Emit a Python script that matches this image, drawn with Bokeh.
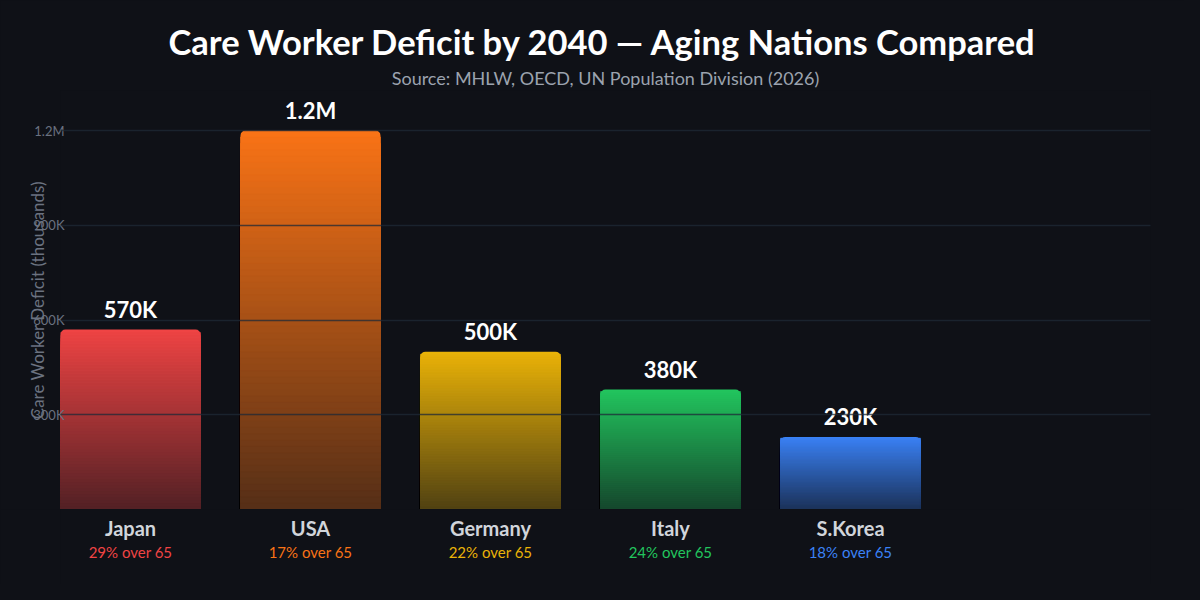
from bokeh.plotting import figure
from bokeh.layouts import column
from bokeh.models import ColumnDataSource, FixedTicker, Title, Range1d
from bokeh.core.properties import value
from bokeh.embed import file_html
from bokeh.resources import INLINE

# ---- data ----
countries = ["Japan", "USA", "Germany", "Italy", "S.Korea"]
deficit_k = [570, 1200, 500, 380, 230]
value_labels = ["570K", "1.2M", "500K", "380K", "230K"]
aging_labels = ["29% over 65", "17% over 65", "22% over 65", "24% over 65", "18% over 65"]
bar_colors = ["#ef4444", "#f97316", "#eab308", "#22c55e", "#3b82f6"]
y_ticks = [300, 600, 900, 1200]
y_tick_labels = ["300K", "600K", "900K", "1.2M"]

TITLE = "Care Worker Deficit by 2040 \u2014 Aging Nations Compared"
SUBTITLE = "Source: MHLW, OECD, UN Population Division (2026)"
Y_LABEL = "Care Worker Deficit (thousands)"

# ---- style ----
BG = "#0f1117"
FONT = "Lato"
BAR_W = 0.7778
N_STRIPS = 60
BOTTOM_ALPHA = 0.3
Y_MAX = 1327


def hex_to_rgb(h):
    h = h.lstrip("#")
    return tuple(int(h[i:i + 2], 16) for i in (0, 2, 4))


def mix(color, a):
    c = hex_to_rgb(color)
    b = hex_to_rgb(BG)
    r = [round(b[j] * (1 - a) + c[j] * a) for j in range(3)]
    return "#%02x%02x%02x" % tuple(r)


xs = list(range(len(countries)))
x_range = Range1d(-0.3889, 5.6667)

p = figure(width=1184, height=509, output_backend="svg", toolbar_location=None,
           title=None, x_range=x_range, y_range=Range1d(0, Y_MAX),
           min_border_left=60, min_border_right=34, min_border_top=90, min_border_bottom=0,
           background_fill_color=BG, border_fill_color=BG)
p.outline_line_color = None

# full bars (top colour, rounded top corners)
full_src = ColumnDataSource(dict(x=xs, top=deficit_k, color=bar_colors))
p.vbar(x="x", top="top", bottom=0, width=BAR_W, fill_color="color", line_color=None,
       border_radius=(5, 5, 0, 0), source=full_src)

# gradient strips
sx, stop, scol = [], [], []
for k in range(N_STRIPS - 1, 0, -1):
    frac = (k - 0.5) / N_STRIPS
    a = BOTTOM_ALPHA + (1 - BOTTOM_ALPHA) * frac
    for i, v in enumerate(deficit_k):
        sx.append(xs[i])
        stop.append(v * k / N_STRIPS)
        scol.append(mix(bar_colors[i], a))
strip_src = ColumnDataSource(dict(x=sx, top=stop, color=scol))
p.vbar(x="x", top="top", bottom=0, width=BAR_W, fill_color="color", line_color="color",
       line_width=0.5, source=strip_src)

# value labels above bars
val_src = ColumnDataSource(dict(x=xs, y=deficit_k, text=value_labels))
p.text(x="x", y="y", text="text", source=val_src, text_align="center",
       text_baseline="alphabetic", y_offset=-20, text_color="#ffffff",
       text_font=value(FONT), text_font_style="bold", text_font_size="22px")

# grid
p.xgrid.visible = False
p.ygrid.ticker = FixedTicker(ticks=y_ticks)
p.ygrid.grid_line_color = "#1f2937"
p.ygrid.grid_line_alpha = 0.75
p.ygrid.grid_line_width = 1.5
p.ygrid.level = "annotation"

p.xaxis.visible = False

# y axis
p.yaxis.ticker = FixedTicker(ticks=y_ticks)
p.yaxis.major_label_overrides = dict(zip(y_ticks, y_tick_labels))
p.yaxis.axis_line_color = None
p.yaxis.major_tick_line_color = None
p.yaxis.minor_tick_line_color = None
p.yaxis.major_tick_out = 0
p.yaxis.major_tick_in = 0
p.yaxis.major_label_standoff = -4
p.yaxis.major_label_text_color = "#6b7280"
p.yaxis.major_label_text_font = FONT
p.yaxis.major_label_text_font_size = "13px"
p.yaxis.axis_label = Y_LABEL
p.yaxis.axis_label_standoff = -18
p.yaxis.axis_label_text_color = "#6b7280"
p.yaxis.axis_label_text_font = FONT
p.yaxis.axis_label_text_font_style = "normal"
p.yaxis.axis_label_text_font_size = "17px"

# titles
p.add_layout(Title(text=SUBTITLE, align="center", text_font=FONT, text_font_size="18px",
                   text_font_style="normal", text_color="#9ca3af", standoff=4), "above")
p.add_layout(Title(text=TITLE, align="left", text_font=FONT, text_font_size="34.5px",
                   text_font_style="bold", text_color="#ffffff", standoff=2, offset=108), "above")

# ---- category labels strip below the bars ----
q = figure(width=1184, height=75, output_backend="svg", toolbar_location=None,
           title=None, x_range=x_range, y_range=Range1d(-1, 0),
           min_border_left=60, min_border_right=34, min_border_top=0, min_border_bottom=0,
           background_fill_color=BG, border_fill_color=BG)
q.outline_line_color = None
q.axis.visible = False
q.grid.visible = False

cat_src = ColumnDataSource(dict(x=xs, y=[0] * len(xs), name=countries,
                                sub=aging_labels, color=bar_colors))
q.text(x="x", y="y", text="name", source=cat_src, text_align="center",
       text_baseline="middle", y_offset=18, text_color="#d1d5db",
       text_font=value(FONT), text_font_style="bold", text_font_size="20px")
q.text(x="x", y="y", text="sub", source=cat_src, text_align="center",
       text_baseline="middle", y_offset=42, text_color="color",
       text_font=value(FONT), text_font_size="15px")

layout = column(p, q, spacing=0, background=BG)

html = file_html(layout, INLINE, title="Care Worker Deficit by 2040")
html = html.replace("</head>", "<style>html, body { background-color: %s; }</style></head>" % BG, 1)
open("out.html", "w").write(html)
